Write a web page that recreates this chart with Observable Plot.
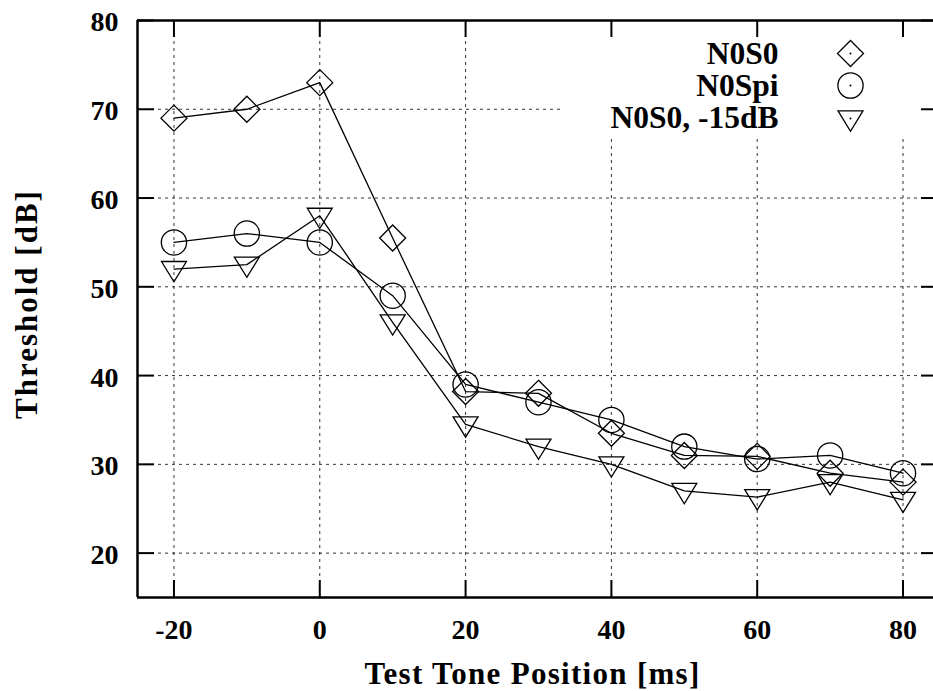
<!DOCTYPE html>
<html>
<head>
<meta charset="utf-8">
<script src="https://cdn.jsdelivr.net/npm/d3@7"></script>
<script src="https://cdn.jsdelivr.net/npm/@observablehq/plot@0.6"></script>
<style>
  html, body { margin: 0; padding: 0; background: white; overflow: hidden; }
  #chart svg { display: block; }
</style>
</head>
<body>
<div id="chart"></div>
<script>
// ---- data ----
const positions = [-20, -10, 0, 10, 20, 30, 40, 50, 60, 70, 80];
const n0s0      = [69, 70, 73, 55.5, 38.2, 38, 33.5, 31, 30.9, 29, 28];
const n0spi     = [55, 56, 55, 49, 39, 37, 35, 32, 30.6, 31, 29];
const n0s0m15   = [52, 52.5, 58, 46, 34.5, 32, 30, 27, 26.3, 28, 26];
const seriesNames = ["N0S0", "N0Spi", "N0S0, -15dB"];
const xTicks = [-20, 0, 20, 40, 60, 80];
const yTicks = [20, 30, 40, 50, 60, 70, 80];
const xTitle = "Test Tone Position [ms]";
const yTitle = "Threshold [dB]";

// ---- layout ----
// The original frame runs ~6px past the right edge of the picture, so the
// visible x range ends a little short of the frame's right side (85).
const W = 933, H = 691;
const mL = 137, mT = 20, mR = 0, mB = 94;
const xDomain = [-25, 84.18];
const yDomain = [15, 80];
const frameH = H - mT - mB;
const frameW = W - mL - mR;
const tickLen = 17;
const keyLeft = 33.5, keyBottom = 66.8; // extent of the key box (masks the grid)
const font = "'Liberation Serif', 'DejaVu Serif', serif";

// ---- symbols (gnuplot-like hollow points) ----
const diamond = {draw(ctx, size) { const r = Math.sqrt(size / Math.PI);
  ctx.moveTo(0, -r); ctx.lineTo(r, 0); ctx.lineTo(0, r); ctx.lineTo(-r, 0); ctx.closePath(); }};
const ring = {draw(ctx, size) { const r = Math.sqrt(size / Math.PI) * 0.97;
  ctx.moveTo(r, 0); ctx.arc(0, 0, r, 0, 2 * Math.PI); ctx.closePath(); }};
const triDown = {draw(ctx, size) { const r = Math.sqrt(size / Math.PI);
  ctx.moveTo(-0.96 * r, -0.58 * r); ctx.lineTo(0.96 * r, -0.58 * r); ctx.lineTo(0, 0.98 * r); ctx.closePath(); }};

const seriesValues = [n0s0, n0spi, n0s0m15];
const symbols = [diamond, ring, triDown];
const series = seriesNames.map((name, i) => ({
  name, symbol: symbols[i],
  rows: positions.map((x, j) => ({x, y: seriesValues[i][j], name}))
}));

const legendTextDy = [33, 65, 97];
const legendDotDy = [33, 65, 98];
const gridStyle = {stroke: "#000", strokeWidth: 0.8, strokeDasharray: "3,4"};

const marks = [
  // grid (dotted), interrupted by the key box
  Plot.ruleX(xTicks, {x: d => d, y1: yDomain[0], y2: d => d > keyLeft ? keyBottom : yDomain[1], ...gridStyle}),
  Plot.ruleY(yTicks.filter(d => d < yDomain[1]), {y: d => d, x1: xDomain[0], x2: d => d > keyBottom ? keyLeft : xDomain[1], ...gridStyle}),
  // data
  ...series.flatMap(s => [
    Plot.line(s.rows, {x: "x", y: "y", stroke: "#000", strokeWidth: 1.3}),
    Plot.dot(s.rows, {x: "x", y: "y", symbol: s.symbol, r: 13, fill: "none", stroke: "#000", strokeWidth: 1.3})
  ]),
  // inward ticks (bottom, top, left, right-cropped)
  Plot.tickX(xTicks, {x: d => d, insetTop: frameH - tickLen, stroke: "#000", strokeWidth: 2}),
  Plot.tickX(xTicks, {x: d => d, insetBottom: frameH - tickLen, stroke: "#000", strokeWidth: 2}),
  Plot.tickY(yTicks, {y: d => d, insetRight: frameW - tickLen, stroke: "#000", strokeWidth: 2}),
  Plot.tickY(yTicks, {y: d => d, insetLeft: frameW - 12, stroke: "#000", strokeWidth: 2}),
  // border: left, bottom, top (right side lies beyond the picture)
  Plot.ruleY(yDomain, {stroke: "#000", strokeWidth: 2.5}),
  Plot.ruleX([xDomain[0]], {stroke: "#000", strokeWidth: 2.5}),
  // axes labels
  Plot.axisX({ticks: xTicks, tickSize: 0, tickPadding: 22, tickFormat: d => String(d), label: null, fontSize: 28}),
  Plot.axisY({ticks: yTicks, tickSize: 0, tickPadding: 19, tickFormat: d => String(d), label: null, fontSize: 28, dy: 2}),
  // axis titles
  Plot.text([xTitle], {frameAnchor: "bottom", lineAnchor: "middle", textAnchor: "middle", dx: -3, dy: 77, fontSize: 31}),
  Plot.text([yTitle], {frameAnchor: "left", lineAnchor: "middle", textAnchor: "middle", rotate: -90, dx: -110, dy: -5, fontSize: 31}),
  // key
  ...series.flatMap((s, i) => [
    Plot.text([s.name], {frameAnchor: "top-right", lineAnchor: "middle", textAnchor: "end", dx: -155, dy: legendTextDy[i], fontSize: 31.5}),
    Plot.dot([s.name], {frameAnchor: "top-right", dx: -83, dy: legendDotDy[i], symbol: s.symbol, r: 13,
      fill: "none", stroke: "#000", strokeWidth: 1.3}),
    Plot.dot([s.name], {frameAnchor: "top-right", dx: -83, dy: legendDotDy[i], r: 1, fill: "#000"})
  ])
];

const chart = Plot.plot({
  width: W, height: H,
  marginLeft: mL, marginTop: mT, marginRight: mR, marginBottom: mB,
  x: {domain: xDomain},
  y: {domain: yDomain},
  style: {fontFamily: font, fontWeight: "bold", fontSize: "28px", background: "white", color: "black"},
  marks
});
// widen the axis titles a little (the original face is wider than Liberation Serif)
d3.select(chart).selectAll("text").each(function () {
  if (this.textContent === xTitle) this.style.letterSpacing = "1.3px";
  if (this.textContent === yTitle) this.style.letterSpacing = "2px";
});
document.getElementById("chart").appendChild(chart);
</script>
</body>
</html>
